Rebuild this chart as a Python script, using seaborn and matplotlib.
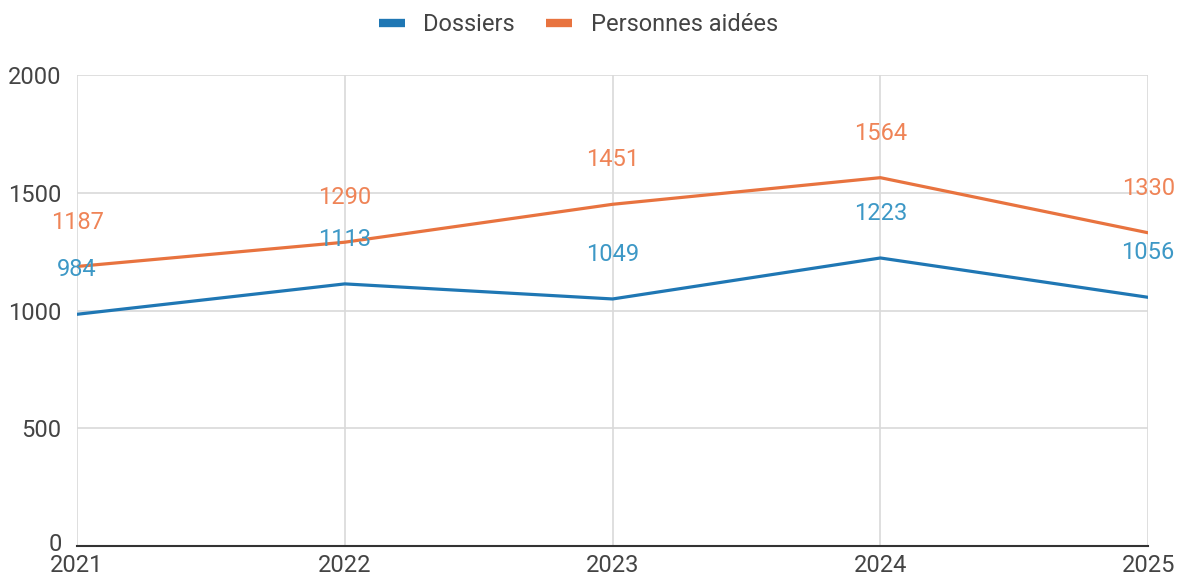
import matplotlib
matplotlib.use("Agg")
import matplotlib.pyplot as plt
import matplotlib.transforms as mtransforms
import seaborn as sns
import pandas as pd

years = [2021, 2022, 2023, 2024, 2025]
dossiers = [984, 1113, 1049, 1223, 1056]
personnes = [1187, 1290, 1451, 1564, 1330]
series_names = ["Dossiers", "Personnes aidées"]
y_ticks = [0, 500, 1000, 1500, 2000]

line_colors = {"Dossiers": "#1f77b4", "Personnes aidées": "#e8733f"}
label_colors = {"Dossiers": "#3d98c6", "Personnes aidées": "#ef8457"}

sns.set_theme(style="white")
plt.rcParams["font.family"] = ["Roboto", "DejaVu Sans"]

df = pd.DataFrame({
    "year": years * 2,
    "value": dossiers + personnes,
    "series": [series_names[0]] * len(years) + [series_names[1]] * len(years),
})

fig = plt.figure(figsize=(11.8, 5.8), dpi=100)
ax = fig.add_axes([0.0653, 0.0586, 0.9077, 0.8121])

sns.lineplot(data=df, x="year", y="value", hue="series", palette=line_colors,
             linewidth=2.3, ax=ax, legend=False, zorder=3)

for name, vals in zip(series_names, [dossiers, personnes]):
    for x, v in zip(years, vals):
        ax.annotate(str(v), (x, v), xytext=(0, 32), textcoords="offset points",
                    ha="center", va="center", fontsize=17,
                    color=label_colors[name], zorder=4)

ax.set_xlim(years[0], years[-1])
ax.set_ylim(0, 2000)
ax.set_xticks(years)
ax.set_xticklabels([str(y) for y in years])
ax.set_yticks(y_ticks)
ax.set_xlabel("")
ax.set_ylabel("")
ax.grid(True, color="#d9d9d9", linewidth=1.2)
ax.set_axisbelow(True)
for s in ["top", "right", "left"]:
    ax.spines[s].set_visible(False)
ax.spines["bottom"].set_color("#333333")
ax.spines["bottom"].set_linewidth(1.5)
ax.tick_params(axis="both", length=0, labelsize=17, colors="#444444")
ax.tick_params(axis="y", pad=11)
ax.tick_params(axis="x", pad=6)

fig.canvas.draw()
zero_lbl = ax.get_yticklabels()[0]
zero_lbl.set_transform(zero_lbl.get_transform() +
                       mtransforms.ScaledTranslation(0, 3 / 72, fig.dpi_scale_trans))

handles = [plt.Line2D([0], [0], color=line_colors[n], linewidth=6,
                      solid_capstyle="butt") for n in series_names]
fig.legend(handles, series_names, loc="center", bbox_to_anchor=(0.49, 0.957),
           ncol=2, frameon=False, fontsize=17, handlelength=1.1,
           columnspacing=1.3, handletextpad=0.8, labelcolor="#444444")

fig.savefig("out.png", dpi=100)
